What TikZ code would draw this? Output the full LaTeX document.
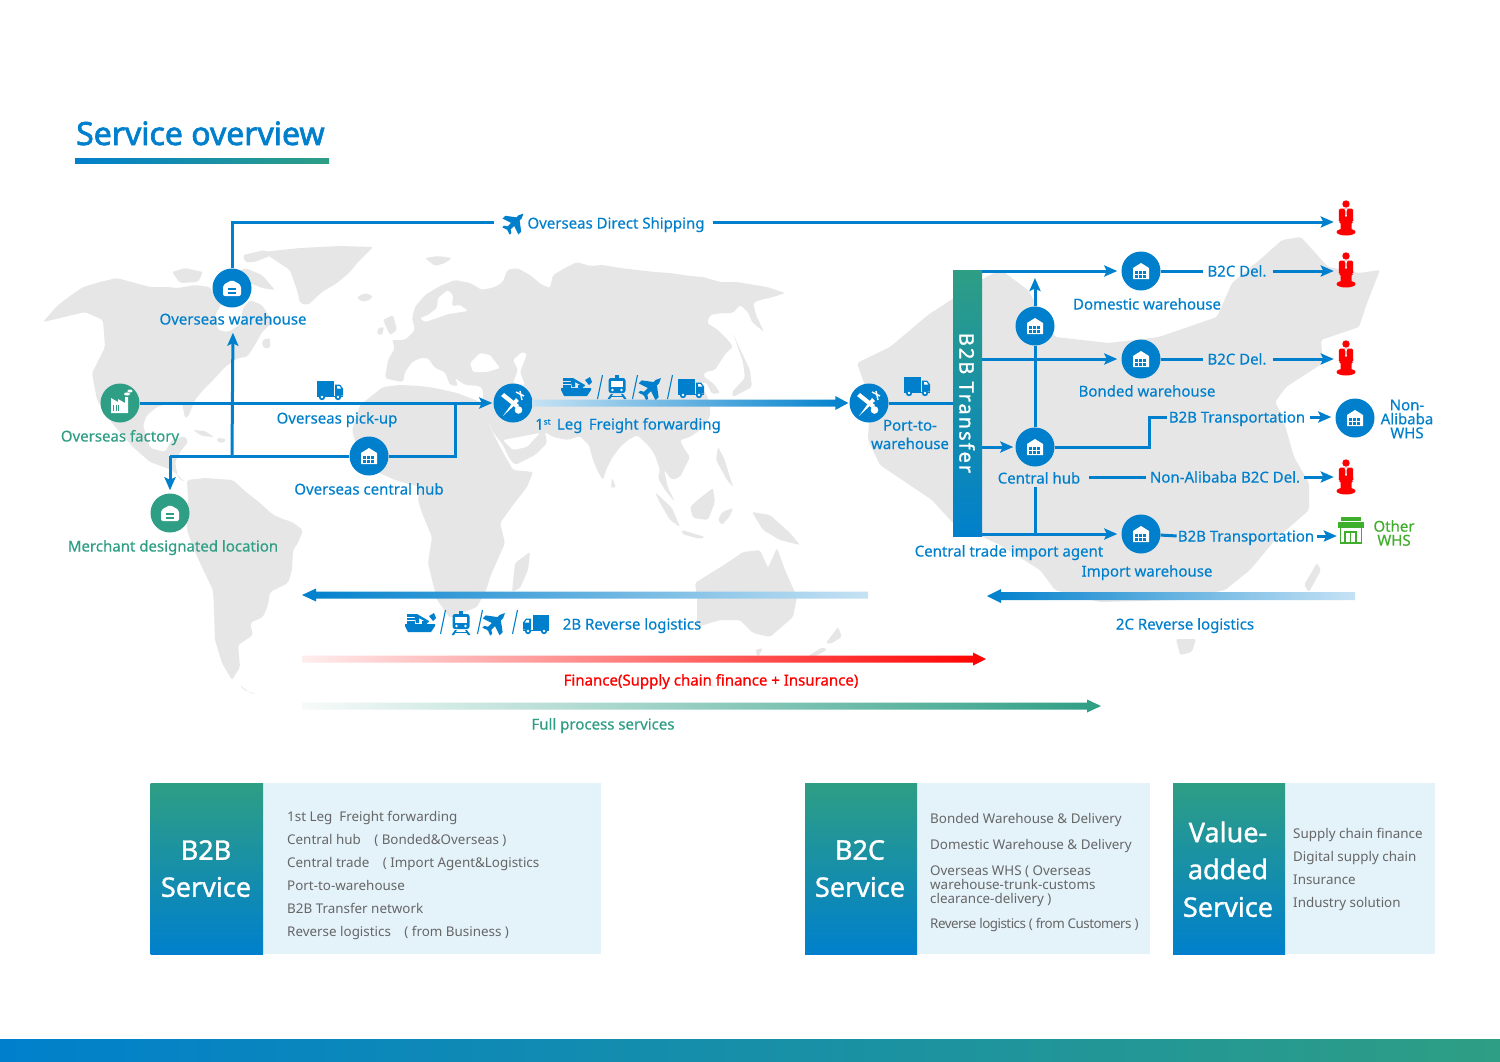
\documentclass[tikz,border=0pt]{standalone}
\usepackage{fontspec}
\setmainfont{Noto Sans}[FakeBold=0.3]
\newfontfamily\regf{Noto Sans}
\newfontfamily\boldf{Noto Sans}[FakeBold=1.2]
\newfontfamily\medf{Noto Sans}[FakeBold=0.8]
\newfontfamily\titf{Noto Sans}[FakeBold=2.2]
\usetikzlibrary{arrows.meta,calc}
\definecolor{bl}{HTML}{0080CC}
\definecolor{gn}{HTML}{2E9E84}
\definecolor{rd}{HTML}{FF0000}
\definecolor{lg}{HTML}{3FAE2A}
\definecolor{mapg}{HTML}{E6E6E6}
\definecolor{pan}{HTML}{E4F2FA}
\definecolor{gtx}{HTML}{666666}
\definecolor{lbl}{HTML}{C6E2F4}
\tikzset{
  flow/.style={draw=bl,line width=3pt},
  flowa/.style={flow,-{Stealth[length=13pt,width=11pt,inset=2.5pt]}},
  hub/.style={circle,fill=#1,minimum size=39pt,inner sep=0pt},
  hub/.default=bl,
  mlab/.style={inner sep=0pt,align=center,text=#1,font=\fontsize{15}{14}\selectfont},
  mlab/.default=bl,
  lab/.style={inner sep=0pt,text height=13pt,text depth=2pt,text=#1,font=\fontsize{15}{14}\selectfont},
  lab/.default=bl,
  ico/.style={inner sep=0pt,minimum width=#1,minimum height=10pt},
  gtext/.style={inner sep=0pt,anchor=west,text height=12pt,text depth=2pt,text=gtx,font=\fontsize{13.4}{14}\selectfont\regf},
  head/.style={inner sep=0pt,text=white,font=\fontsize{27}{27}\selectfont\boldf},
  grad/.style={top color=gn,bottom color=bl},
  pics/whub/.style={code={
    \fill[white] (-8,8)--(-8,-3)--(0,-8)--(8,-3)--(8,8)--cycle;
    \foreach \i in {-6.2,-2.1,2} \foreach \j in {0.2,4} {\fill[#1] (\i,\j) rectangle ++(3.3,2.9);}
  }},
  pics/wbox/.style={code={
    \fill[white,rounded corners=2pt] (-9,8)--(-9,-3)--(0,-8)--(9,-3)--(9,8)--cycle;
    \fill[#1] (-4,-0.5) rectangle (4,1.8);
    \fill[#1] (-4,3.5) rectangle (4,5.8);
  }},
  pics/factory/.style={code={
    \fill[white] (-9,-5)--(-2,-1)--(-2,-4)--(5,0)--(5,-6)--(8,-6)--(8,10)--(-9,10)--cycle;
    \foreach \i in {-7,-4.5,-2} {\fill[gn] (\i,2) rectangle ++(1.3,6);}
    \fill[white] (7,-9) ellipse (3 and 1.6);
    \fill[white] (10,-12) ellipse (2.6 and 1.5);
  }},
  pics/fwd/.style={code={
    \fill[white] (-12,-7)--(-9,-10)--(6,2)--(3,5)--cycle;
    \fill[white] (-10,13)--(3,-5)--(6,-2)--cycle;
    \draw[white,line width=1.4pt] (3,-11)--(11,-7);
    \draw[white,line width=1.4pt] (7,-12)--(9,-3);
    \fill[white] (5.5,7) circle (3.8);
  }},
  pics/truck/.style={code={
    \fill[bl] (-13,-9.5) rectangle (3.5,5.5);
    \fill[bl] (5,-5.5)--(10,-5.5)--(13,-1.5)--(13,5.5)--(5,5.5)--cycle;
    \fill[white] (7,-4)--(9.5,-4)--(11.3,-1.3)--(7,-1.3)--cycle;
    \fill[bl] (-13,6.2) rectangle (13,7.2);
    \foreach \i in {-8,8} {\fill[bl] (\i,7) circle (3.2); \fill[white] (\i,7) circle (1.3);}
  }},
  pics/ship/.style={code={
    \fill[bl] (-15,2)--(15,2)--(15,4)--(11,10)--(-12,10)--(-15,4)--cycle;
    \foreach \j in {-8,-4.5,-1} {\fill[bl] (-13,\j) rectangle (-5.5,{\j+2.7});}
    \fill[bl] (-4,1)--(-6,-8)--(-3,-8)--(9,-1)--(8,1)--(-1,-4)--(-1,1)--cycle;
    \fill[bl] (9,-6)--(14,-9)--(16,-4)--(13,-1)--cycle;
    \fill[bl] (2,-1) rectangle (7,2);
  }},
  pics/train/.style={code={
    \fill[bl,rounded corners=2.5pt] (-8.5,-9)--(8.5,-9)--(8.5,6)--(-8.5,6)--cycle;
    \fill[bl] (-1.8,-12) rectangle (1.8,-9);
    \fill[white] (-6,-6) rectangle (6,-0.5);
    \fill[white] (-4.5,3) circle (1.3);
    \fill[white] (4.5,3) circle (1.3);
    \fill[bl] (-6,7)--(-4,7)--(-7,12)--(-9.5,12)--cycle;
    \fill[bl] (6,7)--(4,7)--(7,12)--(9.5,12)--cycle;
    \fill[bl] (-6,9) rectangle (6,10.3);
  }},
  pics/planeic/.style={code={
    \begin{scope}[rotate=45]
    \fill[bl] (-14,-2.6)--(9,-2.8)--(15,0)--(9,2.8)--(-14,2.6)--cycle;
    \fill[bl] (6,-2)--(-3,-14)--(-8,-14)--(-4,-2)--cycle;
    \fill[bl] (6,2)--(-3,14)--(-8,14)--(-4,2)--cycle;
    \fill[bl] (-10,-2)--(-13,-6.5)--(-16,-6.5)--(-14.5,-2)--cycle;
    \fill[bl] (-10,2)--(-13,6.5)--(-16,6.5)--(-14.5,2)--cycle;
    \end{scope}
  }},
  pics/person/.style={code={
    \fill[rd] (0,-14) circle (3.7);
    \fill[rd] (0,14) ellipse (9.5 and 3.5);
    \fill[rd,rounded corners=1.5pt] (-7,-9.5)--(7,-9.5)--(7.3,4)--(5.5,4)--(5.5,14)--(-5.5,14)--(-5.5,4)--(-7.3,4)--cycle;
    \fill[white] (-1.8,-9.5)--(1.8,-9.5)--(0.5,-7)--(0.8,-2)--(0,-1)--(-0.8,-2)--(-0.5,-7)--cycle;
  }},
  pics/shop/.style={code={
    \fill[lg] (-10,-14) rectangle (10,-10);
    \fill[lg] (-13,-9)--(13,-9)--(13,-3)--(-13,-3)--cycle;
    \draw[lg,line width=1.8pt] (-10.5,-3) -- (-10.5,12) -- (10.5,12) -- (10.5,-3);
    \draw[lg,line width=1.8pt] (-6,12) -- (-6,1) -- (5,1) -- (5,12);
    \draw[lg,line width=1.8pt] (-0.5,1) -- (-0.5,12);
  }},
  pics/slashic/.style={code={\draw[bl,line width=1.1pt] (2.5,-12)--(-2.5,12);}},
}
\begin{document}
\begin{tikzpicture}[x=1pt,y=-1pt]
\useasboundingbox (0,0) rectangle (1500,1061);
\fill[white] (0,0) rectangle (1500,1061);
% ---------- world map ----------
\begin{scope}[fill=mapg,rounded corners=2pt]
% North America
\fill (43,322)--(57,306)--(70,296)--(83,287)--(100,282)--(117,278)--(135,283)--(150,287)--(167,287)--(178,288)--(195,285)--(210,287)--(215,297)--(222,303)--(215,315)--(218,330)--(228,332)--(240,325)--(243,308)--(250,300)--(262,305)--(273,322)--(262,332)--(255,345)--(247,357)--(238,358)--(225,367)--(215,378)--(203,390)--(195,400)--(188,417)--(185,418)--(182,403)--(172,402)--(157,407)--(147,415)--(143,425)--(150,448)--(165,452)--(172,440)--(185,436)--(188,442)--(180,452)--(175,462)--(178,478)--(185,482)--(172,470)--(150,462)--(133,447)--(112,423)--(97,400)--(92,373)--(105,347)--(103,320)--(85,312)--(60,318)--cycle;
\fill (172,272)--(185,268)--(203,272)--(198,282)--(180,283)--cycle;
\fill (232,275)--(245,268)--(262,275)--(275,290)--(262,288)--(250,283)--(235,283)--cycle;
\fill (243,255)--(265,250)--(272,255)--(255,262)--(245,262)--cycle;
\fill (262,340)--(270,338)--(270,348)--(263,348)--cycle;
\fill (193,430)--(205,431)--(214,437)--(202,436)--cycle;
\fill (217,438)--(226,439)--(224,443)--(217,442)--cycle;
% Greenland
\fill (263,252)--(300,248)--(340,246)--(373,247)--(358,262)--(350,272)--(337,283)--(322,292)--(308,305)--(300,303)--(297,290)--(290,270)--(278,262)--cycle;
% South America
\fill (187,480)--(205,478)--(233,480)--(246,492)--(260,503)--(272,514)--(280,518)--(292,522)--(303,530)--(298,543)--(293,550)--(292,570)--(288,583)--(270,592)--(268,605)--(263,617)--(250,623)--(253,635)--(238,645)--(240,667)--(232,680)--(222,663)--(215,640)--(214,610)--(213,590)--(200,563)--(193,547)--(187,530)--(188,500)--cycle;
\fill (240,685)--(250,693)--(256,694)--(244,690)--cycle;
% Eurasia
\fill (415,307)--(425,295)--(440,286)--(455,280)--(470,283)--(482,290)--(495,287)--(503,282)--(507,270)--(517,268)--(530,275)--(542,285)--(550,288)--(553,275)--(565,268)--(577,262)--(590,266)--(603,265)--(620,268)--(637,270)--(655,272)--(670,273)--(690,276)--(703,277)--(720,282)--(737,282)--(755,285)--(767,287)--(785,293)--(773,297)--(760,300)--(753,303)--(756,315)--(764,332)--(752,322)--(748,312)--(740,305)--(733,313)--(722,313)--(710,315)--(707,323)--(718,330)--(728,340)--(733,347)--(726,353)--(720,362)--(715,370)--(705,372)--(703,376)--(714,384)--(720,393)--(712,394)--(706,382)--(698,385)--(707,395)--(710,407)--(710,417)--(700,430)--(690,437)--(680,440)--(683,447)--(690,457)--(687,463)--(680,477)--(672,480)--(664,470)--(668,488)--(675,502)--(665,490)--(658,478)--(660,470)--(655,455)--(648,445)--(637,435)--(628,440)--(620,447)--(612,458)--(606,470)--(603,480)--(598,472)--(593,460)--(589,445)--(580,436)--(568,440)--(553,437)--(545,432)--(547,443)--(535,455)--(515,465)--(509,458)--(503,445)--(493,432)--(485,415)--(483,408)--(483,390)--(480,386)--(465,385)--(455,378)--(458,386)--(450,385)--(445,372)--(435,368)--(428,358)--(420,358)--(412,362)--(405,372)--(403,382)--(392,380)--(385,378)--(388,360)--(395,348)--(392,340)--(405,340)--(415,330)--(412,318)--cycle;
% islands north and west
\fill (390,335)--(383,320)--(393,315)--(397,330)--cycle;
\fill (378,328)--(384,327)--(382,335)--(377,334)--cycle;
\fill (357,297)--(365,293)--(373,296)--(368,301)--(360,301)--cycle;
\fill (425,258)--(438,256)--(452,258)--(445,263)--(435,266)--cycle;
% Japan, Sri Lanka, SE Asia
\fill (733,333)--(738,345)--(750,370)--(752,387)--(733,397)--(732,392)--(745,378)--(743,362)--cycle;
\fill (612,478)--(616,487)--(611,488)--cycle;
\fill (718,447)--(724,458)--(733,487)--(727,480)--(716,460)--cycle;
\fill (713,488)--(715,502)--(708,520)--(693,518)--(690,507)--(700,498)--cycle;
\fill (655,492)--(672,508)--(680,527)--(670,520)--(660,503)--cycle;
\fill (682,530)--(705,537)--(700,539)--(682,534)--cycle;
\fill (722,512)--(733,508)--(730,516)--(722,525)--(718,520)--cycle;
\fill (752,512)--(770,515)--(790,533)--(800,545)--(780,540)--(763,530)--cycle;
% Africa
\fill (383,387)--(400,385)--(420,386)--(435,388)--(457,393)--(483,403)--(490,427)--(500,447)--(513,470)--(533,472)--(527,487)--(513,505)--(500,523)--(505,543)--(490,577)--(487,588)--(477,607)--(450,618)--(437,600)--(428,563)--(432,537)--(422,513)--(418,500)--(420,487)--(395,480)--(362,465)--(352,430)--(360,405)--cycle;
% Madagascar
\fill (530,552)--(528,570)--(520,588)--(512,592)--(515,563)--cycle;
% Australia, NZ
\fill (695,583)--(727,563)--(743,552)--(760,550)--(768,568)--(777,548)--(785,570)--(797,597)--(793,617)--(770,637)--(753,633)--(740,620)--(720,620)--(697,627)--(697,597)--cycle;
\fill (755,650)--(763,648)--(758,657)--cycle;
\fill (838,627)--(842,637)--(830,644)--(826,643)--cycle;
\fill (823,647)--(827,650)--(812,658)--(808,656)--cycle;
% China (large map)
\fill (857,363)--(890,347)--(928,315)--(986,277)--(1001,270)--(1028,290)--(1055,337)--(1109,343)--(1159,337)--(1217,317)--(1232,283)--(1263,257)--(1282,240)--(1301,237)--(1328,267)--(1359,273)--(1380,270)--(1367,303)--(1359,327)--(1321,340)--(1323,363)--(1286,387)--(1275,402)--(1282,415)--(1294,457)--(1309,483)--(1309,510)--(1275,540)--(1250,570)--(1225,590)--(1180,600)--(1100,602)--(1055,590)--(1040,570)--(1000,545)--(953,523)--(932,500)--(880,465)--(868,440)--(870,400)--cycle;
\fill (1317,563)--(1321,570)--(1309,592)--(1304,585)--cycle;
\fill (1176,639)--(1196,639)--(1192,652)--(1180,655)--cycle;
\end{scope}
% seas
\begin{scope}[rounded corners=1.5pt]
\fill[white] (425,322)--(440,317)--(448,314)--(468,311)--(460,305)--(452,306)--(453,295)--(448,290)--(438,298)--(437,308)--(428,315)--(420,318)--cycle;
\fill[white] (470,363)--(480,353)--(490,355)--(500,368)--(487,372)--(473,372)--cycle;
\fill[white] (513,360)--(522,352)--(527,354)--(520,372)--(525,385)--(513,383)--(518,370)--cycle;
\fill[white] (503,440)--(540,433)--(527,447)--(513,450)--cycle;
\end{scope}
% ---------- title ----------
\node[inner sep=0pt,text=bl,font=\fontsize{32}{32}\selectfont\titf,anchor=base west] (title) at (76,145) {Service overview};
\shade[left color=bl,right color=gn] (75,158) rectangle (329,163);
% ---------- left nodes ----------
\node[hub] (ow) at (232,288) {};
\node[hub=gn] (fac) at (120,403) {};
\node[hub=gn] (mer) at (170,513) {};
\node[hub] (och) at (369,456) {};
\node[hub] (fw1) at (513,403) {};
\node[hub] (port) at (869,403) {};
\pic at (ow) {wbox=bl};
\pic at (fac) {factory};
\pic at (mer) {wbox=gn};
\pic at (och) {whub=bl};
\pic at (fw1) {fwd};
\pic at (port) {fwd};
\node[lab] (low) at (233,319) {Overseas warehouse};
\node[lab=gn] (lfac) at (120,436) {Overseas factory};
\node[lab=gn] (lmer) at (173,546) {Merchant designated location};
\node[lab] (loch) at (369,489) {Overseas central hub};
\node[lab] (lpick) at (337,418) {Overseas pick-up};
\node[lab] (lfw) at (628,424) {1\raisebox{5pt}{\fontsize{8}{8}\selectfont st}\ \,Leg\ \,Freight forwarding};
\node[mlab] (lport) at (910,434.5) {Port-to-\\[4.5pt]warehouse};
% ods
\node[ico=36pt] (odsi) at (512,222) {};
\pic[scale=0.8] at (515,222) {planeic};
\node[lab] (ods) at (616,223) {Overseas Direct Shipping};
% persons
\node[ico=24pt] (p1) at (1346,218) {};
\node[ico=24pt] (p2) at (1346,270) {};
\node[ico=24pt] (p3) at (1346,358) {};
\node[ico=24pt] (p4) at (1346,477) {};
\foreach \n in {p1,p2,p3,p4} {\pic at (\n) {person};}
% truck small
\pic at (330,390) {truck};
\pic at (917,386) {truck};
% icon row 1
\pic at (576,386) {ship};
\pic at (600,387) {slashic};
\pic at (617,387) {train};
\pic at (635,387) {slashic};
\pic[scale=0.85] at (652,387) {planeic};
\pic at (670,387) {slashic};
\pic at (691,388) {truck};
% icon row 2
\pic at (420,622) {ship};
\pic at (443,622) {slashic};
\pic at (461,623) {train};
\pic at (480,622) {slashic};
\pic[scale=0.85] at (496,622) {planeic};
\pic at (515,622) {slashic};
\pic[xscale=-1] at (536,624) {truck};
% ---------- B2B bar ----------
\node[grad,minimum width=29pt,minimum height=266pt,inner sep=0pt] (bar) at (967.5,403) {};
\node[rotate=-90,inner sep=0pt,text=white,font=\fontsize{20}{20}\selectfont\boldf] (bart) at (967,403) {\addfontfeature{LetterSpace=10}B2B Transfer};
% ---------- right nodes ----------
\node[hub] (dom) at (1141,271) {};
\node[hub] (bon) at (1141,359) {};
\node[hub] (imp) at (1141,534) {};
\node[hub] (up) at (1035,326) {};
\node[hub] (cen) at (1035,447) {};
\node[hub] (non) at (1355,418) {};
\foreach \n in {dom,bon,imp,up,cen,non} {\pic at (\n) {whub=bl};}
\node[lab] (ldom) at (1147,304) {Domestic warehouse};
\node[lab] (lbon) at (1147,391) {Bonded warehouse};
\node[lab] (limp) at (1147,571) {Import warehouse};
\node[lab] (lcen) at (1039,478) {Central hub};
\node[lab] (lagent) at (1009,551) {Central trade import agent};
\node[lab] (d1) at (1237,271) {B2C Del.};
\node[lab] (d2) at (1237,359) {B2C Del.};
\node[lab] (t1) at (1237,417) {B2B Transportation};
\node[lab] (na) at (1225,477) {Non-Alibaba B2C Del.};
\node[lab] (t2) at (1246,536) {B2B Transportation};
\node[mlab] (lnon) at (1407,419) {Non-\\Alibaba\\WHS};
\node[ico=28pt] (shop) at (1351,531) {};
\pic at (shop) {shop};
\node[mlab=lg] (loth) at (1394,533) {Other\\WHS};
% ---------- coordinates ----------
\coordinate (vj) at (232,456);
\coordinate (cj) at (170,456);
\coordinate (mj) at (455,403);
\coordinate (kink) at (1149,447);
\coordinate (uptip) at (1035,278);
\coordinate (nastart) at (1089,477);
% ---------- connectors ----------
\draw[flow] (ow) |- (odsi.west);
\draw[flowa,shorten <=8pt] (ods.east|-odsi) -- (p1.west|-odsi);
\draw[flowa,shorten >=1pt] (fac) -- (fw1);
\draw[flow] (och) -| (mj);
\draw[flow] (och) -- (cj);
\draw[flowa,shorten >=3pt] (cj) -- (mer);
\draw[flowa,shorten >=6pt] (vj) -- (low.south);
\draw[flow] (port) -- (bar.west|-port);
\draw[flowa,shorten >=4pt] (bar.east|-dom) -- (dom);
\draw[flowa,shorten >=4pt] (bar.east|-bon) -- (bon);
\draw[flowa,shorten >=2pt] (bar.east|-cen) -- (cen);
\draw[flowa,shorten >=4pt] (bar.east|-imp) -- (imp);
\draw[flow] (cen) -- (up);
\draw[flowa] (up) -- (uptip);
\draw[flow,shorten <=1pt] (cen|-lcen.south) -- (cen|-imp);
\draw[flow,shorten >=4pt] (dom) -- (d1.west);
\draw[flowa,shorten <=6pt] (d1.east) -- (p2.west|-d1);
\draw[flow,shorten >=4pt] (bon) -- (d2.west);
\draw[flowa,shorten <=6pt] (d2.east) -- (p3.west|-d2);
\draw[flow,shorten >=2pt] (cen) -- (kink) |- (t1.west);
\draw[flowa,shorten <=5pt,shorten >=4pt] (t1.east) -- (non.west|-t1);
\draw[flow,shorten >=4pt] (nastart) -- (na.west);
\draw[flowa,shorten <=4pt] (na.east) -- (p4.west);
\draw[flow,shorten >=1pt] (imp) -- (t2.west);
\draw[flowa,shorten <=3pt] (t2.east) -- (shop.west|-t2);
% ---------- thick arrows ----------
\shade[left color=lbl,right color=bl] ($(fw1.east)+(0,-3.5)$) -- ($(port.west)+(-14,-3.5)$) -- ($(port.west)+(-14,-7)$) -- ($(port.west)+(-1,0)$) -- ($(port.west)+(-14,7)$) -- ($(port.west)+(-14,3.5)$) -- ($(fw1.east)+(0,3.5)$) -- cycle;
\shade[left color=bl,right color=lbl] (868,591.5)--(316,591.5)--(316,588.5)--(302,595)--(316,601.5)--(316,598.5)--(868,598.5)--cycle;
\shade[left color=bl,right color=lbl] (1355,592)--(1001,592)--(1001,589)--(987,596)--(1001,603)--(1001,600)--(1355,600)--cycle;
\shade[left color=rd!7,right color=rd] (302,655.5)--(973,655.5)--(973,652.5)--(986,659)--(973,665.5)--(973,662.5)--(302,662.5)--cycle;
\shade[left color=gn!4,right color=gn] (302,702.5)--(1087,702.5)--(1087,699.5)--(1101,706)--(1087,712.5)--(1087,709.5)--(302,709.5)--cycle;
\node[lab] (l2b) at (632,624) {2B Reverse logistics};
\node[lab] (l2c) at (1185,624) {2C Reverse logistics};
\node[inner sep=0pt,text height=13pt,text depth=2pt,text=rd,font=\fontsize{15}{15}\selectfont\medf] (lfin) at (711,680) {Finance(Supply chain finance + Insurance)};
\node[lab=gn] (lfull) at (603,724) {Full process services};
% ---------- panels ----------
\fill[pan] (263,783) rectangle (601,954);
\shade[grad] (150.5,783) rectangle (263,954);
\node[head] (h1) at (206,850) {B2B};
\node[head] (h2) at (206,887) {Service};
\node[gtext] (a1) at (287,816) {1st Leg\ \ Freight forwarding};
\node[gtext] (a2) at (287,839) {Central hub\quad( Bonded\&Overseas )};
\node[gtext] (a3) at (287,862) {Central trade\quad( Import Agent\&Logistics};
\node[gtext] (a4) at (287,885) {Port-to-warehouse};
\node[gtext] (a5) at (287,908) {B2B Transfer network};
\node[gtext] (a6) at (287,931) {Reverse logistics\quad( from Business )};
\fill[pan] (917,783) rectangle (1150,954);
\shade[grad] (805,783) rectangle (917,954);
\node[head] (h3) at (860,850) {B2C};
\node[head] (h4) at (860,887) {Service};
\node[gtext] (b1) at (930,818) {Bonded Warehouse \& Delivery};
\node[gtext] (b2) at (930,844) {Domestic Warehouse \& Delivery};
\node[gtext] (b3) at (930,870) {Overseas WHS ( Overseas};
\node[gtext] (b4) at (930,884) {warehouse-trunk-customs};
\node[gtext] (b5) at (930,898) {clearance-delivery )};
\node[gtext] (b6) at (930,923) {\addfontfeature{LetterSpace=-4}Reverse logistics ( from Customers )};
\fill[pan] (1285,783) rectangle (1435,954);
\shade[grad] (1173,783) rectangle (1285,954);
\node[head] (h5) at (1228,832) {Value-};
\node[head] (h6) at (1228,869) {added};
\node[head] (h7) at (1228,907) {Service};
\node[gtext] (c1) at (1293,833) {Supply chain finance};
\node[gtext] (c2) at (1293,856) {Digital supply chain};
\node[gtext] (c3) at (1293,879) {Insurance};
\node[gtext] (c4) at (1293,902) {Industry solution};
% ---------- bottom strip ----------
\shade[left color=bl,right color=gn] (0,1039) rectangle (1500,1061);
\end{tikzpicture}
\end{document}
